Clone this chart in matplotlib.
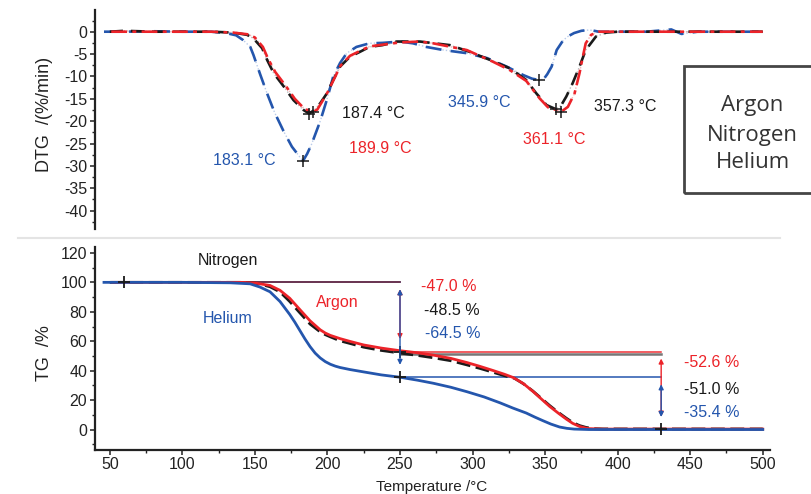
import numpy as np
import matplotlib
matplotlib.use('Agg')
from matplotlib import pyplot as plt
from matplotlib.lines import Line2D
from matplotlib.patches import Rectangle
from matplotlib.ticker import MultipleLocator

plt.rcParams['font.family'] = ['Liberation Sans', 'DejaVu Sans']
plt.rcParams['axes.unicode_minus'] = False

BLUE = '#2456ad'
RED = '#ec2329'
BLACK = '#1a1a1a'
GASES = ['Argon', 'Nitrogen', 'Helium']

# ---------------- DTG data (%/min) ----------------
T_dtg_ar = [51, 60, 80, 100, 120, 135, 145.5, 150, 155.5, 159, 164, 171, 177.5, 184, 189.9, 193, 196, 200,
            204.5, 209, 215.5, 222.4, 229, 238, 250, 263.7, 272.9, 296, 314, 325.8, 337, 346.2, 352, 357.7,
            361.1, 365.7, 370.3, 373.7, 376, 378, 381.7, 387, 400, 420, 440, 460, 480, 500]
dtg_ar = [0, 0, 0, 0, 0, -0.2, -0.6, -1.3, -3.4, -6.0, -9.0, -12.0, -15.0, -17.2, -18.0, -17.4, -15.8, -13.6,
          -10.6, -7.6, -5.4, -4.3, -3.3, -2.9, -2.4, -2.2, -2.6, -4.1, -6.7, -8.6, -11.0, -14.9, -16.9, -17.5,
          -17.9, -16.8, -13.8, -9.3, -5.6, -2.6, -0.7, 0, 0, 0, 0, 0, 0, 0]

T_dtg_n2 = [50, 60, 80, 100, 120, 135, 144.6, 149, 155, 158.4, 163, 170, 176.6, 183.5, 187.4, 191, 195, 199.6,
            204, 208.7, 215.5, 222.4, 229, 238, 247.7, 263.7, 284.4, 298, 312, 325.8, 337, 344, 351, 357.3,
            361, 364.6, 369, 373.7, 378, 385, 392, 400, 420, 440, 460, 480, 500]
dtg_n2 = [0, 0.2, 0, 0, 0, -0.2, -0.7, -1.5, -3.7, -6.3, -9.3, -12.3, -15.3, -17.5, -18.3, -17.5, -16.0, -13.8,
          -10.8, -7.8, -5.6, -4.5, -3.4, -3.0, -2.2, -2.2, -3.0, -4.5, -6.3, -8.2, -10.8, -13.8, -16.4, -17.3,
          -16.5, -14.5, -11.5, -7.8, -4.1, -1.1, -0.2, 0, 0, 0, 0, 0, 0]

T_dtg_he = [46, 60, 80, 100, 120, 130, 137, 142, 146.8, 149, 153.6, 158.4, 163.5, 169.7, 175.5, 180, 183.1, 186,
            189, 192, 195, 199.5, 204, 208.7, 213.3, 220, 229, 238, 250, 259, 268, 280, 296, 310, 323.5, 335,
            341, 345.9, 349, 351.5, 354.5, 358, 362.5, 366, 370, 375, 380.6, 387, 400, 420, 437, 444, 455, 470,
            485, 500]
dtg_he = [0, 0, 0.1, 0, 0, -0.3, -0.8, -1.9, -3.4, -5.2, -9.5, -13.8, -18.0, -22.2, -25.7, -27.6, -28.9, -27.3,
          -25.2, -22.6, -20.0, -15.3, -10.0, -7.0, -4.8, -3.4, -2.6, -2.5, -2.2, -2.6, -3.4, -4.1, -4.8, -5.9, -7.8,
          -9.7, -10.5, -10.8, -10.6, -9.5, -7.8, -4.1, -1.9, -1.0, -0.3, 0.2, 0.4, 0.0, 0, 0, 0.5, -0.5, 0, 0,
          0, 0]

# peak temperatures / values
peak_T_ar = [189.9, 361.1]
peak_v_ar = [-18.0, -17.9]
peak_T_n2 = [187.4, 357.3]
peak_v_n2 = [-18.3, -17.3]
peak_T_he = [183.1, 345.9]
peak_v_he = [-28.9, -10.8]

# ---------------- TG data (%) ----------------
T_tg_ar = [52, 100, 140, 150, 153.5, 160.4, 167.3, 174, 181, 188, 195, 198.5, 202, 208.7, 215.6, 225, 237, 250,
           262, 273, 285, 296, 305, 314, 322, 328, 335, 341.6, 347, 353, 359, 364.6, 369, 373.7, 378, 380.6,
           390, 430, 500]
tg_ar = [100, 100, 100, 99.6, 99, 97.9, 94.6, 89.2, 81.5, 73.9, 67.8, 65.6, 64.0, 61.8, 59.9, 57.5, 55.4, 53.6,
         52.2, 50.6, 48.4, 45.6, 43.0, 40.2, 37.6, 35.4, 31.3, 26.0, 21.2, 15.9, 11.3, 7.2, 4.3, 2.2, 1.1, 0.7,
         0.4, 0.4, 0.4]

T_tg_n2 = [50, 100, 140, 150, 153.5, 160.4, 167.3, 174, 181, 188, 195, 198.5, 202, 208.7, 215.6, 225, 237, 250,
           262, 273, 285, 296, 305, 314, 322, 329, 335, 341.6, 347, 353, 359, 364.6, 369, 373.7, 378, 383,
           390, 430, 500]
tg_n2 = [100, 100, 100, 99.5, 98.8, 97, 93.5, 87, 79.3, 71.7, 66.4, 64.5, 63.0, 60.3, 58.5, 56.0, 53.8, 52.0,
         50.4, 48.8, 46.8, 44.0, 41.6, 39.0, 36.6, 34.8, 31.2, 26.2, 21.6, 16.5, 11.8, 7.8, 4.9, 2.8, 1.6, 0.7,
         0.5, 0.5, 0.5]

T_tg_he = [46, 100, 133, 146.7, 153.5, 160.4, 167.3, 174, 177.5, 181, 184.5, 188, 191.5, 195, 198.5, 202, 205.5,
           208.7, 215.6, 225, 237, 250, 262, 273, 285, 296, 308, 319, 328, 337, 343, 348.5, 354, 360, 365, 370,
           380, 400, 500]
tg_he = [100, 100, 99.7, 99, 96.8, 93.6, 87, 78.2, 73.0, 67.3, 61.6, 56.4, 52.0, 48.7, 46.2, 44.4, 43.1,
         42.2, 40.8, 39.2, 37.2, 35.6, 33.6, 31.5, 28.8, 25.8, 22.2, 18.2, 14.6, 11.3, 8.5, 6.1, 3.8, 1.8, 0.9,
         0.4, 0.1, 0.1, 0.1]

# mass-loss steps (Ar, N2, He)
T_start = 60
T_step1 = 250
T_step2 = 430
loss1 = [-47.0, -48.5, -64.5]
loss2 = [-52.6, -51.0, -35.4]

# ---------------- figure ----------------
fig = plt.figure(figsize=(8.11, 4.94), dpi=100)
W, H = 811, 494
ax1 = fig.add_axes([95 / W, 265 / H, 675 / W, 219 / H])
ax2 = fig.add_axes([95 / W, 44 / H, 675 / W, 203 / H])
xlim = (39.8, 505)

for ax in (ax1, ax2):
    ax.set_xlim(*xlim)
    for s in ['top', 'right']:
        ax.spines[s].set_visible(False)
    ax.spines['left'].set_linewidth(1.6)
    ax.spines['bottom'].set_linewidth(1.6)
    ax.spines['left'].set_color('#222222')
    ax.spines['bottom'].set_color('#222222')
    ax.tick_params(which='major', direction='out', length=3.5, width=1.1, colors='#222222',
                   labelsize=11.5, labelcolor='#222222', pad=2)
    ax.tick_params(which='minor', direction='out', length=2.3, width=1.0, colors='#222222')

# ----- DTG -----
ax1.spines['bottom'].set_visible(False)
ax1.tick_params(axis='x', which='both', bottom=False, labelbottom=False)
ax1.set_ylim(-44.1, 4.85)
ax1.yaxis.set_major_locator(MultipleLocator(5))
ax1.yaxis.set_minor_locator(MultipleLocator(2.5))

# faint underlays, then the dashed strokes
ax1.plot(T_dtg_he, dtg_he, color='#b9cbea', lw=1.0, ls=(0, (1, 1.5)))
ax1.plot(T_dtg_n2, dtg_n2, color='#bbbbbb', lw=1.0, ls=(0, (1, 1.5)))
ax1.plot(T_dtg_ar, dtg_ar, color='#f6b2b4', lw=1.0, ls=(0, (1, 1.5)))
ax1.plot(T_dtg_he, dtg_he, color=BLUE, lw=1.9, ls=(0, (6, 3.5)))
ax1.plot(T_dtg_n2, dtg_n2, color=BLACK, lw=1.9, ls=(0, (5, 3)))
ax1.plot(T_dtg_ar, dtg_ar, color=RED, lw=1.9, ls=(0, (6, 2, 1.5, 2)))

for Ts, vs in [(peak_T_ar, peak_v_ar), (peak_T_n2, peak_v_n2), (peak_T_he, peak_v_he)]:
    ax1.plot(Ts, vs, ls='none', marker='+', ms=8, mew=1.1, color=BLACK)

fs = 11.5
ax1.text(210, -18.2, '%.1f °C' % peak_T_n2[0], color=BLACK, fontsize=fs, va='center')
ax1.text(214.8, -26.2, '%.1f °C' % peak_T_ar[0], color=RED, fontsize=fs, va='center')
ax1.text(121.1, -28.7, '%.1f °C' % peak_T_he[0], color=BLUE, fontsize=fs, va='center')
ax1.text(283, -15.9, '%.1f °C' % peak_T_he[1], color=BLUE, fontsize=fs, va='center')
ax1.text(334.8, -24.2, '%.1f °C' % peak_T_ar[1], color=RED, fontsize=fs, va='center')
ax1.text(383.7, -16.8, '%.1f °C' % peak_T_n2[1], color=BLACK, fontsize=fs, va='center')
ax1.set_ylabel('DTG  /(%/min)', fontsize=13, color='#222222')
ax1.yaxis.set_label_coords(-0.062, 0.525)

# ----- TG -----
ax2.set_ylim(-13.8, 124)
ax2.yaxis.set_major_locator(MultipleLocator(20))
ax2.yaxis.set_minor_locator(MultipleLocator(10))
ax2.xaxis.set_major_locator(MultipleLocator(50))
ax2.xaxis.set_minor_locator(MultipleLocator(25))
ax2.set_xticks(np.arange(50, 501, 50))
ax2.tick_params(axis='x', pad=1.5)

colors = [RED, BLACK, BLUE]
level1 = [100 + l for l in loss1]
level2 = [a + b for a, b in zip(level1, loss2)]

# step guide lines
ax2.plot([T_start, T_step1], [100, 100], color=BLUE, lw=1.2)
ax2.plot([T_start, T_step1], [100, 100], color='#7a1f2b', lw=1.2, alpha=0.85)
for lv, c in zip(level1, ['#ee3035', '#777777', BLUE]):
    ax2.plot([T_step1, T_step2], [lv, lv], color=c, lw=1.1 if c != '#777777' else 1.8)

ax2.plot(T_tg_n2, tg_n2, color=BLACK, lw=2.0, ls=(0, (5, 2)))
ax2.plot(T_tg_ar, tg_ar, color=RED, lw=2.0)
ax2.plot(T_tg_he, tg_he, color=BLUE, lw=2.0)

# arrows
for i in [0, 2]:
    ax2.annotate('', xy=(T_step1, level1[i]), xytext=(T_step1, 100),
                 arrowprops=dict(arrowstyle='<|-|>', color=colors[i], lw=1.0, mutation_scale=7,
                                 shrinkA=5, shrinkB=9))
for i in [0, 2]:
    ax2.annotate('', xy=(T_step2, level2[i]), xytext=(T_step2, level1[i]),
                 arrowprops=dict(arrowstyle='<|-|>', color=colors[i], lw=1.0, mutation_scale=7,
                                 shrinkA=5, shrinkB=9))

ax2.plot([T_start], [100], ls='none', marker='+', ms=9, mew=1.3, color=BLACK)
ax2.plot([T_step1, T_step1], [level1[0], level1[2]], ls='none', marker='+', ms=9, mew=1.3, color=BLACK)
ax2.plot([T_step2], [level2[0]], ls='none', marker='+', ms=9, mew=1.3, color=BLACK)

ax2.text(131.5, 114.8, 'Nitrogen', color=BLACK, fontsize=fs, ha='center', va='center')
ax2.text(207, 86.6, 'Argon', color=RED, fontsize=fs, ha='center', va='center')
ax2.text(131.5, 75.4, 'Helium', color=BLUE, fontsize=fs, ha='center', va='center')

lab_y1 = [97.0, 80.7, 65.6]
lab_y2 = [45.9, 27.5, 11.8]
lab_x1 = [264.5, 266.5, 267.0]
for i in range(3):
    ax2.text(lab_x1[i], lab_y1[i], '%.1f %%' % loss1[i], color=colors[i], fontsize=fs, va='center')
    ax2.text(445.5, lab_y2[i], '%.1f %%' % loss2[i], color=colors[i], fontsize=fs, va='center')

ax2.set_ylabel('TG  /%', fontsize=13, color='#222222')
ax2.yaxis.set_label_coords(-0.062, 0.476)
fig.text(432 / W, 0.5 / H, 'Temperature /°C', fontsize=11, color='#222222', ha='center', va='bottom')

# separator and legend box
fig.add_artist(Line2D([18 / W, 780 / W], [256 / H, 256 / H], color='#e4e4e4', lw=1.5))
fig.add_artist(Rectangle((684 / W, 301 / H), 0.2, 127 / H, transform=fig.transFigure,
                         fill=False, ec='#454545', lw=2))
for name, py in zip(GASES, [105, 135, 163]):
    fig.text(752.5 / W, (H - py) / H, name, fontsize=16, color='#333333', ha='center', va='center',
             family=['Open Sans', 'DejaVu Sans'])

plt.savefig('out.png', dpi=100)
